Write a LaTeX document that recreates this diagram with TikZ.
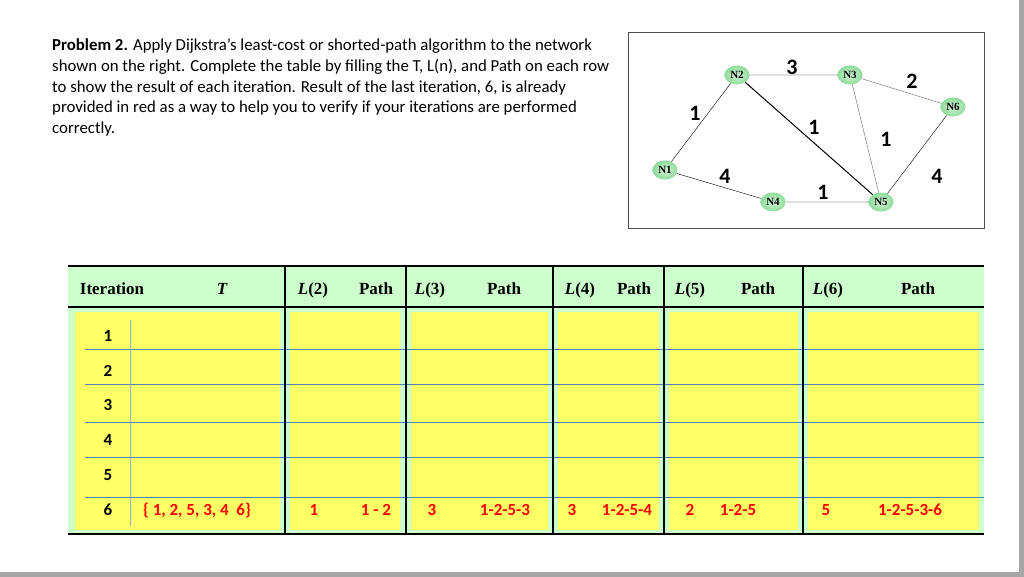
\documentclass[tikz,border=0pt]{standalone}
\usepackage{fontspec}
\setmainfont{Carlito}
\newfontfamily\tms{Liberation Serif}
\usetikzlibrary{shapes.geometric}
\definecolor{hdrgreen}{HTML}{CCFFCC}
\definecolor{cellyel}{HTML}{FFFF66}
\definecolor{rowblue}{HTML}{4F81BD}
\definecolor{nodegreen}{HTML}{8EDC9A}
\definecolor{ansred}{HTML}{FF0000}
\begin{document}
\begin{tikzpicture}[x=1pt,y=-1pt,
  txt/.style={anchor=base west,inner sep=0pt,font=\fontsize{16.8}{18}\selectfont},
  gnode/.style={ellipse,minimum width=25pt,minimum height=19pt,inner sep=0pt,
    shade,inner color=nodegreen!40,outer color=nodegreen,font=\tms\bfseries\fontsize{11}{12}\selectfont},
  elab/.style={inner sep=0pt,font=\bfseries\fontsize{22}{24}\selectfont},
  hd/.style={anchor=base,inner sep=0pt,font=\tms\bfseries\fontsize{17}{19}\selectfont},
  num/.style={anchor=base,inner sep=0pt,font=\bfseries\fontsize{17}{19}\selectfont},
  ans/.style={anchor=base,inner sep=0pt,text=ansred,font=\bfseries\fontsize{17}{19}\selectfont}]
\useasboundingbox (0,0) rectangle (1024,577);
\fill[white] (0,0) rectangle (1024,577);
\fill[gray!70] (1019,0) rectangle (1024,577);
\fill[gray!70] (0,572) rectangle (1024,577);
% text
\node[txt] (p1) at (52,51) {\textbf{Problem 2.} Apply Dijkstra’s least-cost or shorted-path algorithm to the network};
\node[txt] (p2) at (52,72) {shown on the right. Complete the table by filling the T, L(n), and Path on each row};
\node[txt] (p3) at (52,93) {to show the result of each iteration. Result of the last iteration, 6, is already};
\node[txt] (p4) at (52,113) {provided in red as a way to help you to verify if your iterations are performed};
\node[txt] (p5) at (52,134) {correctly.};
% graph
\draw[black!70] (628,32) rectangle (984,228);
\node[gnode] (N2) at (737,75) {N2};
\node[gnode] (N3) at (850,75) {N3};
\node[gnode] (N6) at (953,107) {N6};
\node[gnode] (N1) at (665,170) {N1};
\node[gnode] (N4) at (773,202) {N4};
\node[gnode] (N5) at (881,202) {N5};
\draw (N1)--(N2) (N2)--(N3) (N1)--(N4) (N4)--(N5) (N5)--(N6);
\draw[line width=1pt] (N2)--(N5);
\draw[black!60] (N3)--(N5) (N3)--(N6);
\node[elab] (w23) at (792,67) {3};
\node[elab] (w36) at (912,81) {2};
\node[elab] (w12) at (695,113) {1};
\node[elab] (w25) at (814,127) {1};
\node[elab] (w35) at (886,139) {1};
\node[elab] (w14) at (725,176) {4};
\node[elab] (w45) at (823,192) {1};
\node[elab] (w56) at (937,176) {4};
% table
\fill[hdrgreen] (68,266) rectangle (984,533);
\foreach \a/\b in {75/280,290/400,411/548,558/659,669/798,808/979}
  \fill[cellyel] (\a,312) rectangle (\b,530);
\foreach \y in {349,384,422,457,497}
  \draw[rowblue,line width=0.8pt] (85,\y)--(984,\y);
\draw[rowblue!60] (130,320)--(130,526);
\draw[line width=1.5pt] (68,266)--(984,266);
\draw[line width=1.5pt] (68,307)--(984,307);
\draw[line width=1.5pt] (68,534)--(984,534);
\foreach \x in {285,406,553,664,803}
  \draw[line width=1.5pt] (\x,266)--(\x,534);
\node[hd] (h1) at (112,294) {Iteration};
\node[hd] (h2) at (222,294) {\itshape T};
\node[hd] (h3) at (313,294) {\textit{L}(2)};
\node[hd] (h4) at (376,294) {Path};
\node[hd] (h5) at (430,294) {\textit{L}(3)};
\node[hd] (h6) at (504,294) {Path};
\node[hd] (h7) at (580,294) {\textit{L}(4)};
\node[hd] (h8) at (634,294) {Path};
\node[hd] (h9) at (690,294) {\textit{L}(5)};
\node[hd] (h10) at (758,294) {Path};
\node[hd] (h11) at (828,294) {\textit{L}(6)};
\node[hd] (h12) at (918,294) {Path};
\foreach \n/\y in {1/341,2/376,3/410,4/445,5/480,6/515}
  \node[num] (r\n) at (108,\y) {\n};
\node[ans] (a1) at (197,515) {\{ 1, 2, 5, 3, 4~~6\}};
\node[ans] (a2) at (314,515) {1};
\node[ans] (a3) at (376,515) {1 - 2};
\node[ans] (a4) at (432,515) {3};
\node[ans] (a5) at (505,515) {1-2-5-3};
\node[ans] (a6) at (572,515) {3};
\node[ans] (a7) at (627,515) {1-2-5-4};
\node[ans] (a8) at (690,515) {2};
\node[ans] (a9) at (738,515) {1-2-5};
\node[ans] (a10) at (826,515) {5};
\node[ans] (a11) at (910,515) {1-2-5-3-6};
\end{tikzpicture}
\end{document}
